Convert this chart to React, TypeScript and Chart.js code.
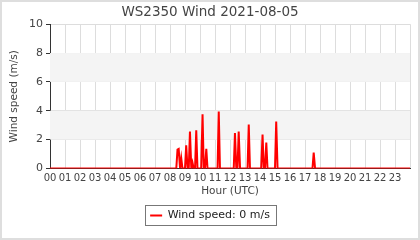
import React, { useEffect, useRef } from "react";
import { Chart, registerables } from "chart.js";

Chart.register(...registerables);

const TITLE = "WS2350 Wind 2021-08-05";
const X_TITLE = "Hour (UTC)";
const Y_TITLE = "Wind speed (m/s)";
const LEGEND_LABEL = "Wind speed: 0 m/s";
const HOUR_TICKS = ["00","01","02","03","04","05","06","07","08","09","10","11","12","13","14","15","16","17","18","19","20","21","22","23"];

// time in decimal hours (UTC), wind speed in m/s
const times = [0, 8.42, 8.5, 8.58, 8.67, 8.75, 8.83, 9.0, 9.08, 9.17, 9.25, 9.33, 9.42, 9.5, 9.58, 9.67, 9.75, 9.83, 10.08, 10.17, 10.25, 10.33, 10.42, 10.5, 11.17, 11.25, 11.33, 12.25, 12.33, 12.42, 12.5, 12.58, 12.67, 13.17, 13.25, 13.33, 14.08, 14.17, 14.25, 14.33, 14.42, 14.5, 15.0, 15.08, 15.17, 17.5, 17.58, 17.67, 24];
const speeds = [0, 0, 1.3, 1.35, 0, 0.7, 0, 0, 1.6, 0, 0, 2.55, 0, 0.4, 0, 0, 2.65, 0, 0, 3.75, 0, 0, 1.35, 0, 0, 3.95, 0, 0, 2.45, 0, 0, 2.55, 0, 0, 3.05, 0, 0, 2.35, 0, 0, 1.8, 0, 0, 3.25, 0, 0, 1.1, 0, 0];

const bandsPlugin = {
  id: "bands",
  beforeDatasetsDraw(chart: any) {
    const { ctx, chartArea, scales } = chart;
    const y = scales.y;
    ctx.save();
    ctx.fillStyle = "#f4f4f4";
    for (const [a, b] of [[2, 4], [6, 8]]) {
      const top = y.getPixelForValue(b);
      const bot = y.getPixelForValue(a);
      ctx.fillRect(chartArea.left, top, chartArea.right - chartArea.left, bot - top);
    }
    ctx.restore();
  },
  beforeDraw(chart: any) {
    const { ctx } = chart;
    ctx.save();
    ctx.fillStyle = "#ffffff";
    ctx.fillRect(0, 0, chart.width, chart.height);
    ctx.restore();
  },
  afterDraw(chart: any) {
    const { ctx } = chart;
    ctx.save();
    const hb = chart.legend && chart.legend.legendHitBoxes && chart.legend.legendHitBoxes[0];
    if (hb) {
      ctx.strokeStyle = "#777";
      ctx.lineWidth = 1;
      ctx.strokeRect(Math.round(hb.left) - 4.5, Math.round(hb.top) - 4.5, Math.round(hb.width) + 11, Math.round(hb.height) + 9);
    }
    ctx.strokeStyle = "#dedede";
    ctx.lineWidth = 2;
    ctx.strokeRect(1, 1, chart.width - 2, chart.height - 2);
    ctx.restore();
  },
};

export default function App() {
  const ref = useRef<HTMLCanvasElement | null>(null);
  useEffect(() => {
    document.body.style.margin = "0";
    Chart.defaults.font.family = "'DejaVu Sans'";
    Chart.defaults.color = "#444";
    const chart = new Chart(ref.current as HTMLCanvasElement, {
      type: "line",
      data: {
        datasets: [
          {
            label: LEGEND_LABEL,
            data: times.map((t, i) => ({ x: t, y: speeds[i] })),
            borderColor: "#ff0000",
            backgroundColor: "#ff0000",
            borderWidth: 2,
            pointRadius: 0,
            tension: 0,
            fill: false,
          },
        ],
      },
      options: {
        animation: false,
        responsive: false,
        maintainAspectRatio: false,
        layout: { padding: { left: 0, right: 0, top: 0, bottom: 9 } },
        plugins: {
          title: {
            display: true,
            text: TITLE,
            color: "#444",
            font: { size: 13.5, weight: "normal" },
            padding: { top: 4, bottom: 4 },
          },
          legend: {
            position: "bottom",
            labels: {
              usePointStyle: true,
              pointStyle: "line",
              pointStyleWidth: 12,
              color: "#222",
              font: { size: 11 },
              padding: 10,
            },
          },
          tooltip: { enabled: false },
        },
        scales: {
          x: {
            type: "linear",
            min: 0,
            max: 24,
            border: { color: "#333", width: 1 },
            grid: { color: "#dddddd", drawTicks: false },
            ticks: {
              stepSize: 1,
              autoSkip: false,
              maxRotation: 0,
              padding: 4,
              font: { size: 10 },
              color: "#444",
              callback: (v: any) => (v < 24 ? HOUR_TICKS[v] : ""),
            },
            title: { display: true, text: X_TITLE, color: "#444", font: { size: 10.5 }, padding: { top: -3, bottom: 2 } },
          },
          y: {
            min: 0,
            max: 10,
            border: { color: "#333", width: 1 },
            grid: {
              color: (c: any) => (c.tick && c.tick.value % 2 === 0 ? "#dddddd" : "rgba(0,0,0,0)"),
              tickColor: "#333",
              tickLength: 4,
            },
            ticks: {
              stepSize: 1,
              padding: 3,
              font: { size: 11 },
              color: "#444",
              callback: (v: any) => (v % 2 === 0 ? String(v) : ""),
            },
            title: { display: true, text: Y_TITLE, color: "#444", font: { size: 10.5 }, padding: { top: 8, bottom: 4 } },
            afterFit: (s: any) => { s.width = 50; },
          },
          yr: {
            position: "right",
            display: true,
            grid: { display: false, drawTicks: false },
            border: { display: false },
            ticks: { display: false },
            afterFit: (s: any) => { s.width = 10; },
          },
        },
      },
      plugins: [bandsPlugin],
    });
    return () => chart.destroy();
  }, []);
  return (
    <div style={{ width: 420, height: 240 }}>
      <canvas ref={ref} width={420} height={240} style={{ display: "block" }} />
    </div>
  );
}
